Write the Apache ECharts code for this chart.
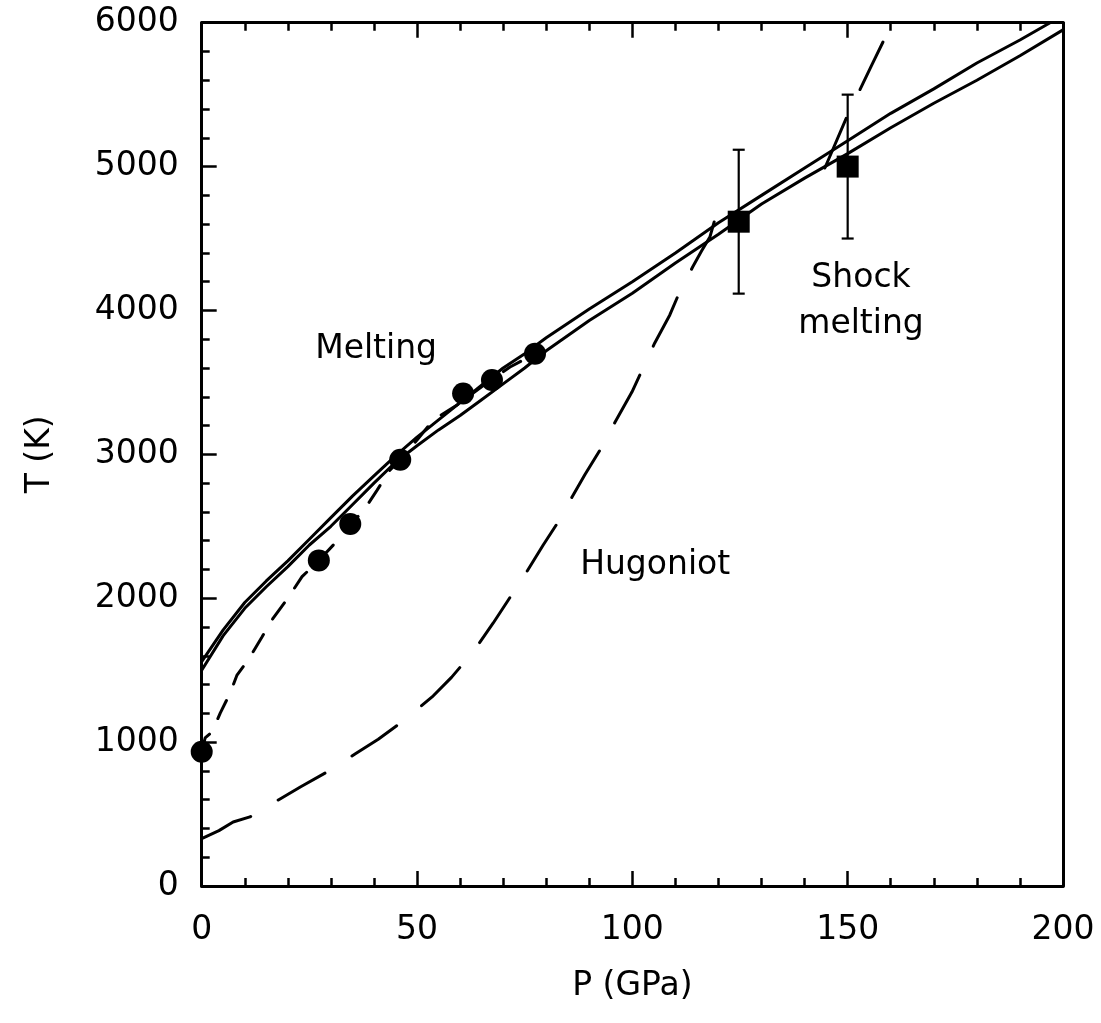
<!DOCTYPE html>
<html><head><meta charset="utf-8">
<script src="https://cdn.jsdelivr.net/npm/echarts@6/dist/echarts.min.js"></script>
<style>html,body{margin:0;padding:0;background:#fff}#c{width:1101px;height:1023px}</style>
</head><body><div id="c"></div>
<script>
// Melting curves (solid)
const meltUpperP = [0,5,10,15,20,25,30,35,40,45,50,55,60,65,70,75,80,90,100,110,120,130,140,150,160,170,180,190,197];
const meltUpperT = [1560,1780,1970,2120,2260,2410,2560,2710,2850,2990,3120,3240,3360,3480,3600,3700,3810,4010,4200,4400,4610,4800,4990,5180,5370,5540,5720,5880,6000];
const meltLowerP = [0,5,10,15,20,25,30,35,40,45,50,55,60,65,70,75,80,90,100,110,120,130,140,150,160,170,180,190,200];
const meltLowerT = [1500,1740,1930,2080,2220,2370,2500,2650,2800,2945,3060,3170,3270,3380,3490,3600,3720,3930,4120,4330,4530,4740,4920,5090,5270,5440,5600,5770,5950];
// Low-pressure dashed curve
const lowP = [0,0.8,2.4,4.3,6.6,8.2,10.8,14,16.6,20,23.3,27.2,31,34.5,37.4,40.7,43.7,46.1,50,53.8,59.3,65,71.6,77.4];
const lowT = [933,1029,1070,1202,1341,1466,1571,1731,1862,2000,2150,2263,2384,2516,2600,2750,2890,2965,3100,3239,3343,3470,3607,3700];
// Hugoniot (long dashes), below and above the melting region
const hugLowP = [0,4,7.3,11.2,17.8,23,29.1,35.6,41,46.8,53.5,58,63,67.7,71.2,75,79.3,83,86,89,92.5,96,99.9,102.5,105.2,108.7,111,114,116,118,119];
const hugLowT = [330,385,445,480,598,690,792,917,1020,1147,1314,1450,1626,1828,1988,2161,2370,2540,2704,2860,3030,3225,3433,3600,3774,3969,4130,4302,4410,4510,4615];
const hugHighP = [144.7,147,149.8,152.8,155.5,158.2];
const hugHighT = [4990,5150,5345,5532,5700,5866];
// Data points
const circP = [0,27.2,34.5,46.1,60.7,67.4,77.4];
const circT = [933,2263,2516,2963,3423,3517,3700];
const sqP = [124.7,150];
const sqT = [4617,5000];
const sqErr = [500,500];
// Axis ticks
const xTicks = [0,50,100,150,200];
const yTicks = [0,1000,2000,3000,4000,5000,6000];
// Annotations
const annText = ['Melting','Hugoniot','Shock\nmelting'];
const annP = [40.5,105.3,153.1];
const annT = [3732,2231,4062];

const zip = (a,b) => a.map((v,i)=>[v,b[i]]);
const FONT = 'DejaVu Sans';
const FS = 33;
const black = '#000';

const tickCommon = {
  axisLine:{show:true,onZero:false,lineStyle:{color:black,width:3}},
  axisTick:{show:true,inside:true,length:15,lineStyle:{color:black,width:2.5}},
  minorTick:{show:true,splitNumber:5,length:8,lineStyle:{color:black,width:2.5}},
  splitLine:{show:false}
};
const plain = v => String(v);

const chart = echarts.init(document.getElementById('c'), null, {renderer:'canvas'});
chart.setOption({
  animation:false,
  backgroundColor:'#fff',
  grid:{left:201.7,top:22.7,right:38,bottom:137,containLabel:false},
  xAxis:[
    Object.assign({type:'value',min:xTicks[0],max:xTicks[xTicks.length-1],interval:50,position:'bottom',
      name:'P (GPa)',nameLocation:'middle',nameGap:84,
      nameTextStyle:{fontFamily:FONT,fontSize:FS,color:black},
      axisLabel:{margin:28,fontFamily:FONT,fontSize:FS,color:black,formatter:plain}}, tickCommon),
    Object.assign({type:'value',min:xTicks[0],max:xTicks[xTicks.length-1],interval:50,position:'top',
      axisLabel:{show:false}}, tickCommon)
  ],
  yAxis:[
    Object.assign({type:'value',min:yTicks[0],max:yTicks[yTicks.length-1],interval:1000,position:'left',
      name:'T (K)',nameLocation:'middle',nameGap:145,
      nameTextStyle:{fontFamily:FONT,fontSize:FS,color:black},
      axisLabel:{margin:23,fontFamily:FONT,fontSize:FS,color:black,formatter:plain}}, tickCommon),
    {type:'value',min:yTicks[0],max:yTicks[yTicks.length-1],interval:1000,position:'right',
      axisLine:{show:true,onZero:false,lineStyle:{color:black,width:3}},
      axisTick:{show:false},axisLabel:{show:false},splitLine:{show:false}}
  ],
  series:[
    {type:'line',data:zip(meltUpperP,meltUpperT),showSymbol:false,symbol:'none',lineStyle:{color:black,width:3},z:3},
    {type:'line',data:zip(meltLowerP,meltLowerT),showSymbol:false,symbol:'none',lineStyle:{color:black,width:3},z:3},
    {type:'line',data:zip(lowP,lowT),showSymbol:false,symbol:'none',lineStyle:{color:black,width:3,type:[20,18],cap:'round'},z:3},
    {type:'line',data:zip(hugLowP,hugLowT),showSymbol:false,symbol:'none',lineStyle:{color:black,width:3,type:[54,32],cap:'round'},z:3},
    {type:'line',data:zip(hugHighP,hugHighT),showSymbol:false,symbol:'none',lineStyle:{color:black,width:3,type:[54,32],cap:'round'},z:3},
    {type:'custom',clip:false,z:4,
      data:sqP.map((p,i)=>[p,sqT[i]-sqErr[i],sqT[i]+sqErr[i]]),
      renderItem:function(params,api){
        const x=api.value(0),lo=api.value(1),hi=api.value(2);
        const t=api.coord([x,hi]),b=api.coord([x,lo]);
        const w=6, st={stroke:black,lineWidth:2.2};
        return {type:'group',children:[
          {type:'line',shape:{x1:t[0],y1:t[1],x2:b[0],y2:b[1]},style:st},
          {type:'line',shape:{x1:t[0]-w,y1:t[1],x2:t[0]+w,y2:t[1]},style:st},
          {type:'line',shape:{x1:b[0]-w,y1:b[1],x2:b[0]+w,y2:b[1]},style:st}
        ]};
      }},
    {type:'scatter',data:zip(circP,circT),symbol:'circle',symbolSize:22,clip:false,itemStyle:{color:black,opacity:1},z:5},
    {type:'scatter',data:zip(sqP,sqT),symbol:'rect',symbolSize:22,clip:false,itemStyle:{color:black,opacity:1},z:5},
    {type:'scatter',symbolSize:1,itemStyle:{color:'rgba(0,0,0,0)',opacity:1},z:6,silent:true,
      data:annText.map((t,i)=>({name:t,value:[annP[i],annT[i]]})),
      label:{show:true,position:'inside',formatter:p=>p.name,fontFamily:FONT,fontSize:FS,color:black,opacity:1,lineHeight:46,align:'center',verticalAlign:'middle'}}
  ]
});
</script>
</body></html>
